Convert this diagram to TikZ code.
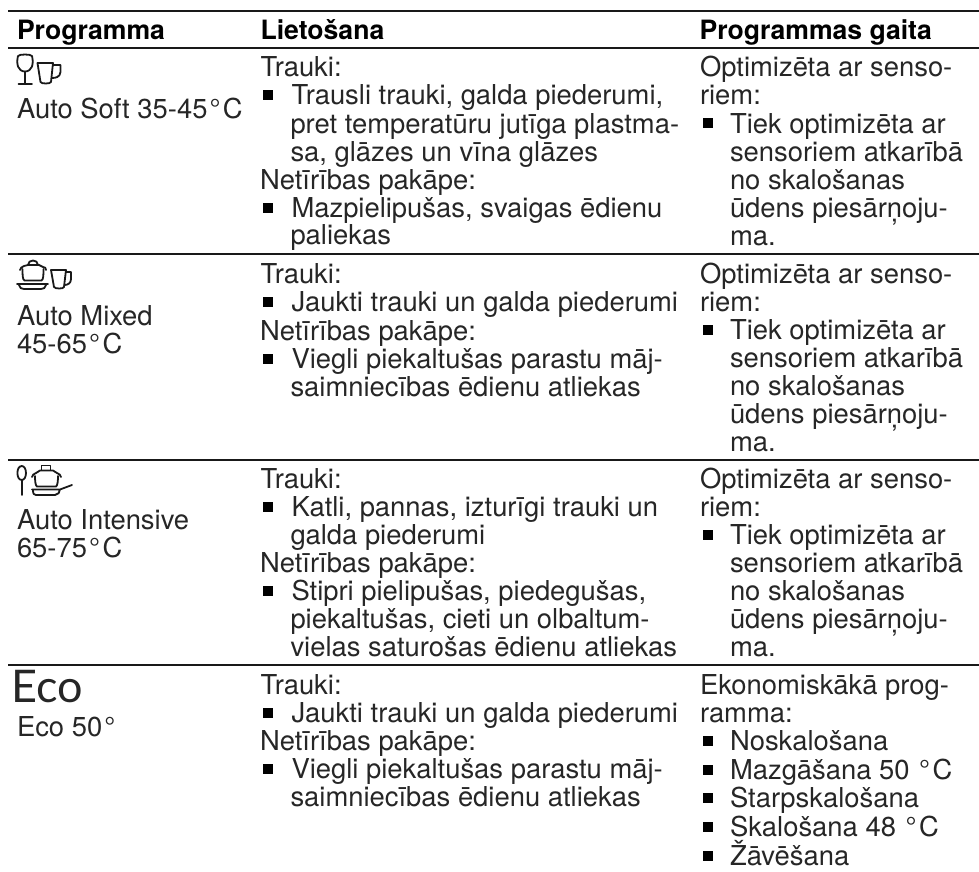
\documentclass[tikz,border=0pt]{standalone}
\usepackage{fontspec}
\setmainfont{TeX Gyre Heros}
\newfontfamily\ecofont{Lato}
\newcommand{\Dg}{\kern2pt°\kern2.5pt}
\tikzset{
  every node/.style={inner sep=0pt,outer sep=0pt,anchor=base west,font=\fontsize{27.4}{30}\selectfont,text=black!85},
  hdr/.style={font=\fontsize{26.6}{30}\selectfont\bfseries,text=black},
  rulel/.style={line width=2pt,black!90},
  bul/.style={fill=black,draw=none,minimum width=10pt,minimum height=10pt,anchor=center,inner sep=0pt,shape=rectangle},
  icon/.style={line width=1.8pt,black!90,line cap=round,line join=round},
}
\newcommand{\Blt}[3]{\node[bul] (#1) at (268,#2-9.5) {}; \node (#1t) at (291.5,#2) {#3};}
\newcommand{\Brt}[3]{\node[bul] (#1) at (707.5,#2-9.5) {}; \node (#1t) at (730,#2) {#3};}
\newcommand{\OptBlock}[2]{% prefix, start baseline
  \node (#1a) at (700,#2) {Optimizēta ar senso-};
  \node (#1b) at (700,#2+28) {riem:};
  \Brt{#1c}{#2+56}{Tiek optimizēta ar}
  \node (#1d) at (730,#2+84) {sensoriem atkarībā};
  \node (#1e) at (730,#2+112) {no skalošanas};
  \node (#1f) at (730,#2+140) {ūdens piesārņoju-};
  \node (#1g) at (730,#2+168) {ma.};
}
\begin{document}
\begin{tikzpicture}[x=1pt,y=-1pt]
\useasboundingbox (0,0) rectangle (979,872);
\draw[rulel] (8,11) -- (979,11);
\draw[rulel] (8,48) -- (979,48);
\draw[rulel] (8,254) -- (979,254);
\draw[rulel] (8,460) -- (979,460);
\draw[rulel] (8,665) -- (979,665);
\node[hdr] (h1) at (17,40) {Programma};
\node[hdr] (h2) at (260.5,40) {Lietošana};
\node[hdr] (h3) at (699.5,40) {Programmas gaita};
% icon 1
\draw[icon] (18,56) .. controls (16,64) and (18,71.5) .. (25,71.5) .. controls (32,71.5) and (34,64) .. (32,56) .. controls (31,54) and (19,54) .. (18,56);
\draw[icon] (25,72) -- (25,84) (18.5,84) -- (32,84);
\draw[icon] (37.5,63) -- (53,63) -- (51,82) .. controls (50.5,84) and (41,84) .. (40.5,82) -- cycle;
\draw[icon] (53,65) -- (60.5,65) -- (60.5,72) .. controls (60,77) and (56,78) .. (52,78);
% icon 2
\draw[icon] (20,270) .. controls (20,268) and (22,267) .. (24,266) -- (28,265) -- (39,265) -- (43,267) .. controls (45,267) and (46,268) .. (46,270);
\draw[icon] (28,265) .. controls (28,259) and (38,259) .. (38,265);
\draw[icon] (22.5,269) .. controls (22.5,274) and (22.5,280) .. (24.5,280.5) -- (41.5,280.5) .. controls (43.5,280) and (43.5,274) .. (43.5,269);
\draw[icon] (17,284) -- (48,284) (19,285) .. controls (20,288) and (21,289) .. (24,289) -- (41,289) .. controls (44,289) and (45,288) .. (46,285);
\draw[icon] (51,270) -- (66,270) -- (64,287) .. controls (63.5,289) and (55,289) .. (54,287) -- cycle;
\draw[icon] (66,272) -- (71,272) -- (71,279) .. controls (71,283) and (68,285) .. (64.5,285);
% icon 3
\draw[icon] (21.7,466) .. controls (16,466) and (16,480) .. (21.7,480) .. controls (27.4,480) and (27.4,466) .. (21.7,466);
\draw[icon] (21.7,480) -- (21.7,495);
\draw[icon] (32,477) .. controls (32,475) and (34,474) .. (36,473) -- (40,470.5) -- (53,470.5) -- (57,473) .. controls (59,474) and (61,475) .. (61,477);
\draw[icon] (41.5,470) -- (41.5,465.5) -- (50.5,465.5) -- (50.5,470);
\draw[icon] (35,476) .. controls (35,481) and (35.5,486) .. (37,486.5) -- (56,486.5) .. controls (57.5,486) and (58,481) .. (58,476);
\draw[icon] (32,489.5) -- (60,489.5) -- (72,485) (33,490) .. controls (33,494) and (34,495) .. (36,495) -- (55,495) .. controls (58,495) and (60,492) .. (60,489.5);
\node (a1) at (17,118) {Auto Soft 35-45\Dg C};
\node (a2) at (17,325) {Auto Mixed};
\node (a3) at (17,353) {45-65\Dg C};
\node (a4) at (17,529) {Auto Intensive};
\node (a5) at (17,557) {65-75\Dg C};
\node[font=\fontsize{45}{48}\ecofont] (a6) at (11.5,702) {Eco};
\node (a7) at (17,736) {Eco 50\Dg};
\node (m1) at (260.5,77) {Trauki:};
\Blt{m2}{105}{Trausli trauki, galda piederumi,}
\node (m3) at (290.5,133) {pret temperatūru jutīga plastma-};
\node (m4) at (290.5,161) {sa, glāzes un vīna glāzes};
\node (m5) at (260,189) {Netīrības pakāpe:};
\Blt{m6}{217}{Mazpielipušas, svaigas ēdienu}
\node (m7) at (290.5,244) {paliekas};
\node (n1) at (260.5,283) {Trauki:};
\Blt{n2}{311}{Jaukti trauki un galda piederumi}
\node (n3) at (260,340) {Netīrības pakāpe:};
\Blt{n4}{368}{Viegli piekaltušas parastu māj-}
\node (n5) at (290.5,396) {saimniecības ēdienu atliekas};
\node (o1) at (260.5,488) {Trauki:};
\Blt{o2}{516}{Katli, pannas, izturīgi trauki un}
\node (o3) at (290.5,544) {galda piederumi};
\node (o4) at (260,572) {Netīrības pakāpe:};
\Blt{o5}{600}{Stipri pielipušas, piedegušas,}
\node (o6) at (290.5,628) {piekaltušas, cieti un olbaltum-};
\node (o7) at (290.5,656) {vielas saturošas ēdienu atliekas};
\node (p1) at (260.5,694) {Trauki:};
\Blt{p2}{722}{Jaukti trauki un galda piederumi}
\node (p3) at (260,750) {Netīrības pakāpe:};
\Blt{p4}{778}{Viegli piekaltušas parastu māj-}
\node (p5) at (290.5,806) {saimniecības ēdienu atliekas};
\OptBlock{q}{77}
\OptBlock{r}{283}
\OptBlock{s}{488}
\node (t1) at (700,694) {Ekonomiskākā prog-};
\node (t2) at (700,722) {ramma:};
\Brt{t3}{750}{Noskalošana}
\Brt{t4}{779}{Mazgāšana 50 \Dg C}
\Brt{t5}{807}{Starpskalošana}
\Brt{t6}{836}{Skalošana 48 \Dg C}
\Brt{t7}{865}{Žāvēšana}
\end{tikzpicture}
\end{document}
